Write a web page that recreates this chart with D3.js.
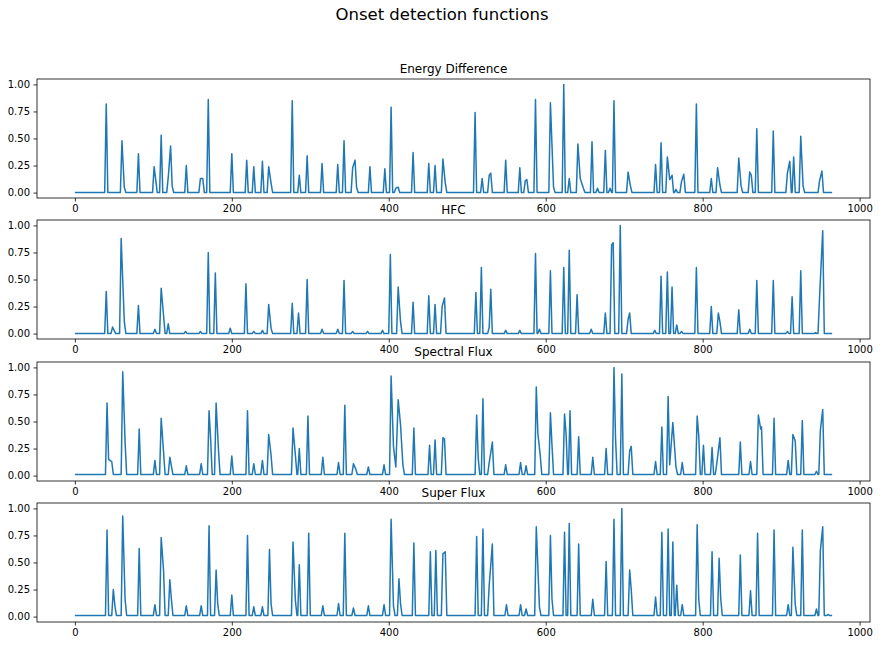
<!DOCTYPE html>
<html><head><meta charset="utf-8">
<script src="https://cdn.jsdelivr.net/npm/d3@7"></script>
<style>body{margin:0;background:#fff}svg{font-family:"DejaVu Sans",sans-serif}</style>
</head><body><svg id="c" width="884" height="647"></svg>
<script>
// peaks: [frame, value]
var energyPeaks = [[40,0.82],[60,0.48],[63,0.05],[81,0.36],[101,0.24],[103,0.12],[110,0.53],[119,0.14],[122,0.43],[124,0.06],
  [142,0.25],[160,0.13],[163,0.13],[170,0.86],[200,0.36],[219,0.30],[228,0.24],[239,0.29],[247,0.24],[250,0.09],
  [277,0.85],[286,0.16],[296,0.34],[315,0.27],[335,0.26],[343,0.48],[354,0.23],[357,0.30],[359,0.05],[376,0.24],
  [395,0.22],[403,0.79],[409,0.04],[412,0.05],[431,0.37],[451,0.27],[459,0.25],[469,0.31],[472,0.09],[510,0.74],
  [519,0.13],[528,0.16],[530,0.18],[549,0.30],[567,0.23],[574,0.11],[576,0.12],[587,0.86],[606,0.83],[610,0.05],
  [623,1.0],[630,0.13],[641,0.45],[644,0.13],[648,0.04],[659,0.47],[666,0.04],[676,0.39],[682,0.04],[687,0.85],
  [705,0.19],[708,0.06],[740,0.26],[747,0.46],[755,0.33],[758,0.12],[761,0.16],[766,0.03],[773,0.10],[776,0.17],
  [792,0.82],[811,0.13],[819,0.23],[822,0.07],[846,0.32],[849,0.06],[860,0.19],[862,0.16],[869,0.59],[890,0.57],
  [908,0.18],[911,0.29],[916,0.33],[925,0.52],[928,0.06],[949,0.11],[952,0.20]];
var hfcPeaks = [[40,0.39],[48,0.06],[50,0.03],[59,0.88],[63,0.11],[81,0.26],[102,0.04],[110,0.42],[113,0.17],[119,0.09],
  [141,0.02],[160,0.02],[170,0.75],[179,0.56],[198,0.05],[218,0.46],[228,0.02],[239,0.03],[247,0.27],[250,0.05],
  [277,0.28],[285,0.19],[296,0.50],[315,0.04],[335,0.04],[343,0.49],[354,0.02],[373,0.02],[392,0.03],[402,0.73],
  [412,0.43],[415,0.11],[431,0.29],[451,0.35],[459,0.27],[468,0.25],[471,0.33],[511,0.38],[518,0.61],[528,0.06],
  [530,0.41],[549,0.03],[567,0.03],[587,0.74],[592,0.04],[606,0.58],[623,0.61],[630,0.77],[640,0.36],[658,0.04],
  [676,0.19],[684,0.82],[686,0.84],[695,1.0],[705,0.13],[707,0.19],[739,0.03],[747,0.53],[755,0.57],[761,0.43],
  [767,0.08],[773,0.02],[792,0.61],[811,0.25],[820,0.19],[822,0.11],[846,0.22],[860,0.04],[869,0.49],[890,0.49],
  [908,0.02],[914,0.34],[925,0.58],[944,0.01],[949,0.34],[953,0.95]];
var fluxPeaks = [[41,0.67],[43,0.15],[47,0.13],[61,0.96],[64,0.31],[82,0.43],[102,0.14],[110,0.53],[113,0.22],[121,0.17],
  [123,0.09],[142,0.09],[161,0.11],[171,0.60],[173,0.34],[180,0.67],[183,0.24],[200,0.18],[220,0.60],[228,0.11],
  [239,0.14],[247,0.38],[250,0.19],[278,0.44],[281,0.19],[286,0.25],[297,0.55],[316,0.17],[336,0.12],[344,0.65],
  [355,0.11],[358,0.06],[374,0.08],[394,0.10],[403,0.92],[406,0.27],[409,0.08],[412,0.70],[415,0.47],[418,0.10],
  [432,0.44],[452,0.28],[459,0.33],[469,0.35],[471,0.34],[512,0.56],[514,0.16],[520,0.71],[528,0.12],[532,0.31],
  [549,0.10],[568,0.12],[575,0.09],[588,0.82],[590,0.39],[593,0.19],[606,0.58],[608,0.28],[624,0.57],[626,0.38],
  [631,0.60],[642,0.36],[660,0.17],[677,0.25],[687,1.0],[689,0.34],[697,0.94],[707,0.23],[709,0.27],[740,0.13],
  [748,0.45],[756,0.73],[758,0.10],[762,0.49],[766,0.08],[774,0.12],[793,0.55],[795,0.37],[801,0.28],[812,0.26],
  [818,0.11],[822,0.35],[848,0.31],[861,0.13],[871,0.56],[874,0.43],[875,0.45],[891,0.53],[909,0.14],[915,0.38],
  [918,0.32],[927,0.51],[945,0.04],[950,0.42],[953,0.61]];
var superPeaks = [[41,0.80],[49,0.25],[51,0.10],[61,0.93],[64,0.16],[82,0.63],[102,0.11],[110,0.73],[113,0.43],[121,0.34],
  [123,0.16],[142,0.10],[161,0.10],[171,0.84],[180,0.43],[182,0.12],[200,0.20],[220,0.75],[228,0.09],[239,0.09],
  [248,0.62],[250,0.12],[278,0.69],[281,0.15],[286,0.48],[298,0.77],[316,0.10],[336,0.12],[344,0.77],[355,0.08],
  [374,0.10],[394,0.11],[403,0.90],[406,0.10],[413,0.35],[415,0.12],[432,0.68],[453,0.60],[460,0.61],[469,0.58],
  [472,0.60],[512,0.74],[520,0.81],[528,0.29],[532,0.67],[550,0.11],[568,0.11],[575,0.07],[588,0.83],[592,0.09],
  [606,0.75],[608,0.16],[624,0.78],[630,0.86],[642,0.67],[660,0.16],[677,0.51],[687,0.90],[697,1.0],[707,0.43],
  [709,0.25],[740,0.18],[748,0.78],[756,0.81],[762,0.69],[767,0.29],[774,0.11],[793,0.85],[795,0.16],[812,0.60],
  [821,0.54],[823,0.17],[848,0.57],[861,0.24],[870,0.77],[891,0.80],[909,0.11],[915,0.64],[918,0.11],[927,0.80],
  [945,0.07],[950,0.61],[953,0.83],[960,0.02]];
var titles = ["Energy Difference","HFC","Spectral Flux","Super Flux"];
var baselines = [0, 0, 0.01, 0.01];
var lastFrame = 965;
var xTicks = [0,200,400,600,800,1000];
var yTicks = [0,0.25,0.5,0.75,1.0];

var svg = d3.select("#c")
var left = 37, right = 870
var panelTops = [79,220,362,503], panelH = 119

svg.append("text").attr("x",442).attr("y",20).attr("text-anchor","middle")
    .attr("font-size",16.5).text("Onset detection functions")

var x = d3.scaleLinear().domain([-0.05*lastFrame, 1.05*lastFrame]).range([left,right])

function buildPoints(peaks, base){
    var pts = [[0,base]]
    for(var i=0;i<peaks.length;i++){
        var f = peaks[i][0]
        var prev = i>0 ? peaks[i-1][0] : -10
        var next = i<peaks.length-1 ? peaks[i+1][0] : 2000
        if(f-2 > prev+2 || i==0) pts.push([f-2,base])
        pts.push(peaks[i])
        if(f+2 < next-2) pts.push([f+2,base])
    }
    pts.push([lastFrame,base])
    return pts
}

var allPeaks = [energyPeaks,hfcPeaks,fluxPeaks,superPeaks]
for(var p=0;p<4;p++){
    var pt = panelTops[p]
    var y = d3.scaleLinear().domain([-0.05,1.05]).range([pt+panelH, pt])
    var g = svg.append("g")

    g.append("path").datum(buildPoints(allPeaks[p], baselines[p]))
        .attr("fill","none").attr("stroke","#1f77b4").attr("stroke-width",1.5)
        .attr("stroke-linejoin","round")
        .attr("d", d3.line().x(function(d){return x(d[0])}).y(function(d){return y(d[1])}))

    var xa = g.append("g").attr("transform","translate(0,"+(pt+panelH)+")")
        .call(d3.axisBottom(x).tickValues(xTicks).tickFormat(d3.format("d")).tickSizeOuter(0).tickSize(3.5).tickPadding(3.5))
    var ya = g.append("g").attr("transform","translate("+left+",0)")
        .call(d3.axisLeft(y).tickValues(yTicks).tickFormat(d3.format(".2f")).tickSizeOuter(0).tickSize(3.5).tickPadding(3.5))
    ;[xa,ya].forEach(function(a){
        a.select(".domain").remove()
        a.selectAll("text").attr("font-size",10).attr("font-family","DejaVu Sans").attr("fill","#000")
        a.selectAll("line").attr("stroke","#000").attr("stroke-width",0.8)
    })

    g.append("rect").attr("x",left).attr("y",pt).attr("width",right-left).attr("height",panelH)
        .attr("fill","none").attr("stroke","#000").attr("stroke-width",0.8)

    g.append("text").attr("x",(left+right)/2).attr("y",pt-6).attr("text-anchor","middle")
        .attr("font-size",12).text(titles[p])
}
</script></body></html>
